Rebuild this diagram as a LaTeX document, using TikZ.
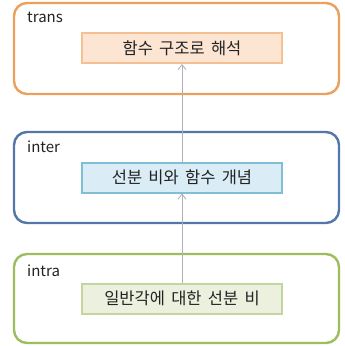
\documentclass[tikz,border=0pt]{standalone}
\usepackage{fontspec}
\setmainfont[WordSpace=1.7]{Noto Sans CJK KR}
\usetikzlibrary{arrows.meta}
\definecolor{transO}{RGB}{236,160,92}
\definecolor{transF}{RGB}{252,229,210}
\definecolor{transB}{RGB}{246,192,146}
\definecolor{interO}{RGB}{84,118,168}
\definecolor{interF}{RGB}{218,236,245}
\definecolor{interB}{RGB}{128,190,212}
\definecolor{intraO}{RGB}{158,189,94}
\definecolor{intraF}{RGB}{236,241,223}
\definecolor{intraB}{RGB}{196,214,158}
\definecolor{arrowC}{RGB}{175,175,185}
\definecolor{txt}{RGB}{35,35,35}
\tikzset{
  outerbox/.style={line width=2.4pt, rounded corners=13pt, fill=white},
  innerbox/.style={line width=2pt, minimum width=200pt, minimum height=30pt, inner sep=0pt, text=txt, font=\fontsize{16.5}{18}\selectfont},
  lvl/.style={anchor=west, inner sep=0pt, text=txt, font=\fontsize{15}{17}\selectfont},
  conn/.style={draw=arrowC, line width=0.8pt, -{Straight Barb[length=5pt,width=8pt]}}
}
\begin{document}
\begin{tikzpicture}[x=1pt,y=-1pt]
\useasboundingbox (0,0) rectangle (345,346);
\fill[white] (0,0) rectangle (345,346);
% outer boxes
\draw[outerbox, draw=transO] (14,3) rectangle (339,94);
\draw[outerbox, draw=interO] (14,132) rectangle (339,223);
\draw[outerbox, draw=intraO] (14,254) rectangle (339,343);
% labels
\node[lvl] (ltrans) at (27,17) {trans};
\node[lvl] (linter) at (27,147) {inter};
\node[lvl] (lintra) at (27,271) {intra};
% inner boxes
\node[innerbox, draw=transB, fill=transF] (t) at (182,48) {함수 구조로 해석};
\node[innerbox, draw=interB, fill=interF] (i) at (182,177.5) {선분 비와 함수 개념};
\node[innerbox, draw=intraB, fill=intraF] (a) at (182,298.5) {일반각에 대한 선분 비};
% connectors
\draw[conn] (a.north) -- (i.south);
\draw[conn] (i.north) -- (t.south);
\end{tikzpicture}
\end{document}
